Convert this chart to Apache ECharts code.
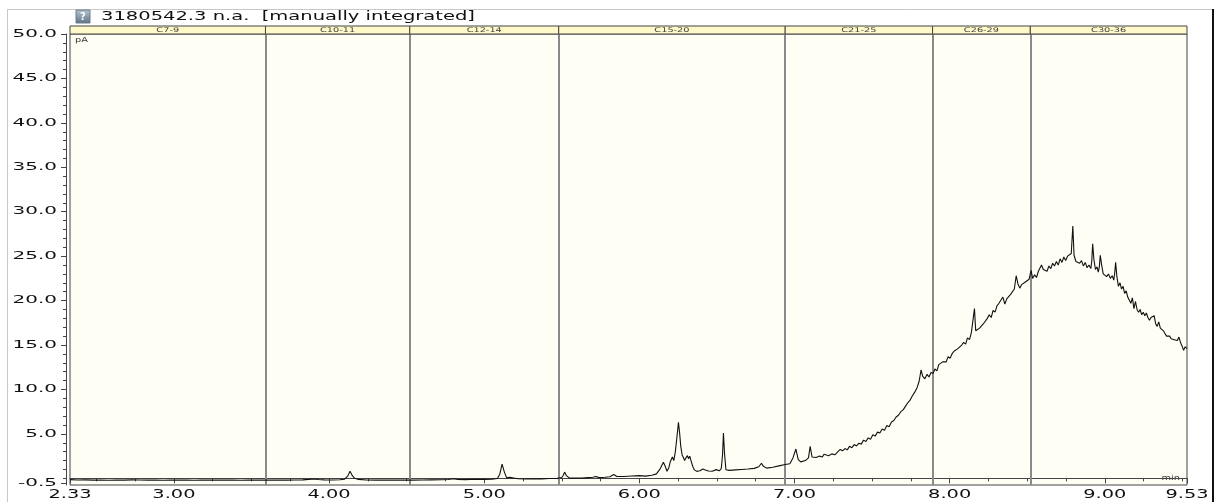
<!DOCTYPE html>
<html><head><meta charset="utf-8">
<script src="https://cdn.jsdelivr.net/npm/echarts@6/dist/echarts.min.js"></script>
<style>html,body{margin:0;padding:0;background:#fff;}#c{width:1217px;height:502px;}</style>
</head><body><div id="c"></div>
<script>
// chromatogram trace: [retention time (min), signal (pA)]
const trace = [
[2.33,-0.15],[2.38,-0.19],[2.43,-0.17],[2.48,-0.2],[2.53,-0.18],[2.58,-0.21],[2.63,-0.18],[2.68,-0.2],[2.73,-0.17],[2.78,-0.19],
[2.83,-0.2],[2.88,-0.18],[2.93,-0.21],[2.98,-0.19],[3.03,-0.2],[3.08,-0.18],[3.13,-0.21],[3.18,-0.19],[3.23,-0.2],[3.28,-0.18],
[3.33,-0.2],[3.38,-0.19],[3.43,-0.21],[3.48,-0.19],[3.53,-0.2],[3.58,-0.18],[3.63,-0.2],[3.68,-0.19],[3.73,-0.2],[3.78,-0.18],
[3.83,-0.17],[3.87,-0.12],[3.9,-0.07],[3.93,-0.13],[3.97,-0.17],[4.02,-0.18],[4.07,-0.16],[4.1,-0.1],[4.12,0.25],[4.135,0.8],
[4.15,0.3],[4.165,0.0],[4.19,-0.12],[4.24,-0.18],[4.3,-0.2],[4.36,-0.19],[4.42,-0.2],[4.48,-0.18],[4.54,-0.2],[4.6,-0.18],
[4.66,-0.17],[4.72,-0.16],[4.77,-0.13],[4.8,-0.05],[4.83,-0.12],[4.88,-0.14],[4.94,-0.11],[5.0,-0.12],[5.05,-0.09],[5.085,-0.02],
[5.1,0.45],[5.115,1.6],[5.13,0.7],[5.145,0.05],[5.165,0.12],[5.175,0.3],[5.19,0.02],[5.22,-0.05],[5.27,-0.07],[5.32,-0.04],
[5.37,-0.06],[5.42,-0.02],[5.47,0.0],[5.5,0.1],[5.51,0.35],[5.518,0.7],[5.53,0.3],[5.55,0.02],[5.59,0.04],[5.63,0.02],
[5.67,0.08],[5.7,0.12],[5.72,0.2],[5.74,0.08],[5.78,0.12],[5.81,0.18],[5.835,0.43],[5.855,0.2],[5.9,0.2],[5.95,0.27],
[6.0,0.3],[6.04,0.25],[6.08,0.35],[6.11,0.5],[6.135,1.1],[6.155,1.8],[6.168,1.3],[6.178,0.8],[6.19,1.2],[6.2,1.9],
[6.213,2.4],[6.222,2.0],[6.232,3.0],[6.242,4.6],[6.252,6.3],[6.26,5.0],[6.267,3.6],[6.276,2.6],[6.284,2.35],[6.292,2.0],
[6.3,2.3],[6.31,2.55],[6.317,2.2],[6.325,2.5],[6.336,1.8],[6.345,1.3],[6.355,0.95],[6.37,0.78],[6.39,0.85],[6.41,1.05],
[6.425,0.95],[6.445,0.82],[6.47,0.8],[6.495,0.98],[6.515,0.85],[6.528,1.1],[6.536,2.6],[6.542,5.1],[6.549,2.8],[6.558,0.96],
[6.58,0.9],[6.62,0.95],[6.66,1.0],[6.7,1.05],[6.74,1.12],[6.77,1.3],[6.787,1.7],[6.8,1.35],[6.82,1.15],[6.86,1.25],
[6.9,1.4],[6.94,1.55],[6.97,1.65],[6.99,2.3],[7.009,3.3],[7.024,2.1],[7.04,1.85],[7.07,2.0],[7.09,2.3],[7.101,3.6],
[7.113,2.4],[7.14,2.35],[7.16,2.5],[7.18,2.4],[7.19,2.7],[7.202,2.85],[7.22,2.55],[7.24,2.75],[7.26,2.65],[7.28,3.0],
[7.295,3.25],[7.31,3.1],[7.325,3.35],[7.34,3.2],[7.355,3.6],[7.37,3.45],[7.385,3.8],[7.4,3.65],[7.415,3.95],[7.43,3.85],
[7.445,4.3],[7.46,4.15],[7.475,4.55],[7.49,4.4],[7.505,4.9],[7.52,4.75],[7.535,5.2],[7.55,5.1],[7.565,5.55],[7.58,5.4],
[7.595,5.95],[7.61,5.8],[7.625,6.35],[7.64,6.5],[7.655,6.9],[7.67,7.1],[7.685,7.5],[7.7,7.7],[7.715,8.1],[7.73,8.5],
[7.745,8.8],[7.76,9.3],[7.775,9.7],[7.79,10.2],[7.803,10.9],[7.816,12.2],[7.826,11.5],[7.84,11.2],[7.855,11.7],[7.867,11.4],
[7.88,11.9],[7.893,11.8],[7.905,12.3],[7.918,12.1],[7.93,12.8],[7.942,12.6],[7.955,13.1],[7.966,13.3],[7.978,13.1],[7.99,13.7],
[8.003,13.5],[8.015,14.0],[8.028,14.3],[8.04,14.1],[8.053,14.6],[8.065,14.4],[8.078,15.0],[8.09,15.3],[8.103,15.1],[8.115,15.8],
[8.128,15.6],[8.14,16.4],[8.152,16.2],[8.16,19.1],[8.168,16.6],[8.18,16.4],[8.193,16.9],[8.205,16.8],[8.218,17.4],[8.23,17.3],
[8.243,18.0],[8.255,18.4],[8.268,18.1],[8.28,18.9],[8.293,18.7],[8.305,19.4],[8.318,19.7],[8.33,19.5],[8.343,20.4],[8.356,19.6],
[8.368,20.2],[8.38,20.0],[8.393,20.7],[8.405,20.5],[8.417,21.3],[8.429,22.8],[8.44,21.9],[8.452,21.4],[8.464,21.8],[8.476,21.6],
[8.488,22.1],[8.5,21.9],[8.512,22.4],[8.525,23.4],[8.535,22.5],[8.548,22.9],[8.56,22.6],[8.572,23.3],[8.583,23.1],[8.592,24.0],
[8.604,23.5],[8.616,23.7],[8.628,23.3],[8.64,23.9],[8.652,23.6],[8.664,24.2],[8.676,23.9],[8.688,24.4],[8.7,24.0],[8.712,24.7],
[8.724,24.3],[8.736,24.9],[8.748,24.5],[8.76,25.0],[8.772,24.8],[8.784,25.3],[8.794,28.4],[8.802,25.1],[8.814,24.4],[8.826,24.6],
[8.838,24.2],[8.85,24.5],[8.862,23.9],[8.874,24.3],[8.886,23.7],[8.898,24.0],[8.91,23.6],[8.916,24.4],[8.922,26.4],[8.93,24.6],
[8.94,23.5],[8.95,23.8],[8.958,23.2],[8.965,23.8],[8.971,25.1],[8.98,24.0],[8.99,23.0],[9.0,23.2],[9.012,22.7],[9.024,23.0],
[9.036,22.5],[9.048,22.8],[9.058,22.3],[9.064,23.1],[9.07,24.3],[9.078,22.7],[9.088,21.6],[9.098,22.0],[9.108,21.3],[9.118,21.6],
[9.128,20.8],[9.138,21.1],[9.148,20.4],[9.158,20.6],[9.168,19.7],[9.178,20.3],[9.188,19.1],[9.198,19.9],[9.208,19.0],[9.218,18.7],
[9.228,19.0],[9.238,18.4],[9.248,18.7],[9.258,18.3],[9.268,18.6],[9.278,18.1],[9.288,17.8],[9.298,18.1],[9.308,17.9],[9.318,18.3],
[9.328,17.4],[9.338,17.1],[9.348,17.6],[9.358,16.9],[9.368,17.1],[9.378,16.6],[9.388,16.3],[9.398,16.0],[9.408,15.8],[9.418,16.0],
[9.428,15.7],[9.438,15.9],[9.448,15.6],[9.458,15.8],[9.468,15.5],[9.478,15.9],[9.488,15.3],[9.498,14.9],[9.508,14.4],[9.518,14.8],
[9.53,14.6]
];
const bandNames = ['C7-9','C10-11','C12-14','C15-20','C21-25','C26-29','C30-36'];
const bandEdges = [2.33,3.59,4.52,5.48,6.94,7.89,8.52,9.53];
const xTickLabels = [2.33,3,4,5,6,7,8,9,9.53];
const xMinorTicks = [2.5,2.75,3.25,3.5,3.75,4.25,4.5,4.75,5.25,5.5,5.75,6.25,6.5,6.75,7.25,7.5,7.75,8.25,8.5,8.75,9.25,9.5];
const yTickLabels = [-0.5,5,10,15,20,25,30,35,40,45,50];
const yMinorTicks = [0,1,2,3,4,5,6,7,8,9,10,11,12,13,14,15,16,17,18,19,20,21,22,23,24,25,26,27,28,29,30,31,32,33,34,35,36,37,38,39,40,41,42,43,44,45,46,47,48,49,50];

const X_MIN = 2.33, X_MAX = 9.53, Y_MIN = -0.75, Y_MAX = 50;
const FONT = 'DejaVu Sans';

const chart = echarts.init(document.getElementById('c'), null, {renderer: 'canvas'});

const option = {
  animation: false,
  backgroundColor: '#ffffff',
  grid: [
    {left: 70, right: 30, top: 34, bottom: 17, show: true, backgroundColor: '#FFFEF4', borderColor: '#444', borderWidth: 1, containLabel: false},
    {left: 70, right: 30, top: 26, height: 8, show: false}
  ],
  xAxis: [
    {gridIndex: 0, type: 'value', min: X_MIN, max: X_MAX, position: 'bottom', offset: 2,
     axisLine: {show: true, lineStyle: {color: '#444', width: 1}},
     axisTick: {show: true, customValues: xTickLabels, length: 5, lineStyle: {color: '#444'}},
     axisLabel: {show: false}, splitLine: {show: false}},
    {gridIndex: 0, type: 'value', min: X_MIN, max: X_MAX, position: 'bottom', offset: 2,
     axisLine: {show: false},
     axisTick: {show: true, customValues: xMinorTicks, length: 3, lineStyle: {color: '#444'}},
     axisLabel: {show: false}, splitLine: {show: false}},
    {gridIndex: 1, type: 'value', min: X_MIN, max: X_MAX, show: false}
  ],
  yAxis: [
    {gridIndex: 0, type: 'value', min: Y_MIN, max: Y_MAX, position: 'left', offset: 4,
     axisLine: {show: true, lineStyle: {color: '#444', width: 1}},
     axisTick: {show: true, customValues: yTickLabels, length: 5, lineStyle: {color: '#444'}},
     axisLabel: {show: false}, splitLine: {show: false}},
    {gridIndex: 0, type: 'value', min: Y_MIN, max: Y_MAX, position: 'left', offset: 4,
     axisLine: {show: false},
     axisTick: {show: true, customValues: yMinorTicks, length: 3, lineStyle: {color: '#444'}},
     axisLabel: {show: false}, splitLine: {show: false}},
    {gridIndex: 1, type: 'value', min: 0, max: 1, show: false}
  ],
  series: [
    {
      type: 'line', xAxisIndex: 0, yAxisIndex: 0,
      data: trace,
      showSymbol: false, symbol: 'none',
      lineStyle: {color: '#111', width: 1.1},
      z: 5,
      markLine: {
        silent: true, symbol: ['none', 'none'], label: {show: false},
        lineStyle: {color: '#8a8a8a', width: 2, type: 'solid'},
        data: bandEdges.slice(1, -1).map(v => ({xAxis: v}))
      }
    },
    {
      type: 'custom', xAxisIndex: 2, yAxisIndex: 2, silent: true, z: 6,
      data: bandNames.map((n, i) => [bandEdges[i], bandEdges[i + 1]]),
      renderItem: function (params, api) {
        const p0 = api.coord([api.value(0), 1]);
        const p1 = api.coord([api.value(1), 0]);
        const w = p1[0] - p0[0], h = p1[1] - p0[1];
        return {
          type: 'group',
          children: [
            {type: 'rect', shape: {x: p0[0], y: p0[1], width: w, height: h},
             style: {fill: '#FFF9C9', stroke: '#444', lineWidth: 1}},
            {type: 'text', x: p0[0] + w / 2, y: p0[1] + h / 2 + 0.5, scaleX: 1.5,
             style: {text: bandNames[params.dataIndex], fontSize: 6.5, fontFamily: FONT, fill: '#444', align: 'center', verticalAlign: 'middle'}}
          ]
        };
      }
    },
    {
      type: 'custom', xAxisIndex: 0, yAxisIndex: 0, silent: true, clip: false, z: 7,
      data: yTickLabels.map(v => [X_MIN, v]),
      renderItem: function (params, api) {
        const v = api.value(1);
        const p = api.coord([X_MIN, v]);
        return {type: 'text', x: p[0] - 13, y: p[1], scaleX: 1.9,
          style: {text: v.toFixed(1), fontSize: 10.5, fontFamily: FONT, fill: '#111', align: 'right', verticalAlign: 'middle'}};
      }
    },
    {
      type: 'custom', xAxisIndex: 0, yAxisIndex: 0, silent: true, clip: false, z: 7,
      data: xTickLabels.map(v => [v, Y_MIN]),
      renderItem: function (params, api) {
        const v = api.value(0);
        const p = api.coord([v, Y_MIN]);
        return {type: 'text', x: p[0], y: p[1] + 3, scaleX: 1.55,
          style: {text: v.toFixed(2), fontSize: 12.5, fontFamily: FONT, fill: '#111', align: 'center', verticalAlign: 'top'}};
      }
    }
  ],
  graphic: [
    {type: 'line', shape: {x1: 7, y1: 9.5, x2: 1213, y2: 9.5}, style: {stroke: '#c8c8c8', lineWidth: 1}, silent: true},
    {type: 'line', shape: {x1: 7.5, y1: 9, x2: 7.5, y2: 502}, style: {stroke: '#c8c8c8', lineWidth: 1}, silent: true},
    {type: 'line', shape: {x1: 1213, y1: 9, x2: 1213, y2: 502}, style: {stroke: '#111', lineWidth: 2}, silent: true},
    {type: 'rect', shape: {x: 76, y: 10, width: 14, height: 13},
     style: {fill: new echarts.graphic.LinearGradient(0, 0, 0, 1, [{offset: 0, color: '#b9c6d2'}, {offset: 1, color: '#5d7388'}]), stroke: '#6a7a8a', lineWidth: 1}, silent: true},
    {type: 'text', x: 83, y: 17, style: {text: '?', fontSize: 10, fontWeight: 'bold', fontFamily: FONT, fill: '#ffffff', align: 'center', verticalAlign: 'middle'}, silent: true},
    {type: 'text', x: 101, y: 16.5, scaleX: 1.5,
     style: {text: '3180542.3 n.a.  [manually integrated]', fontSize: 13, fontFamily: FONT, fill: '#111', align: 'left', verticalAlign: 'middle'}, silent: true},
    {type: 'text', x: 75, y: 40, scaleX: 1.4,
     style: {text: 'pA', fontSize: 7, fontFamily: FONT, fill: '#333', align: 'left', verticalAlign: 'middle'}, silent: true},
    {type: 'text', x: 1180, y: 478, scaleX: 1.4,
     style: {text: 'min', fontSize: 7, fontFamily: FONT, fill: '#333', align: 'right', verticalAlign: 'middle'}, silent: true}
  ]
};
chart.setOption(option);
</script>
</body></html>
